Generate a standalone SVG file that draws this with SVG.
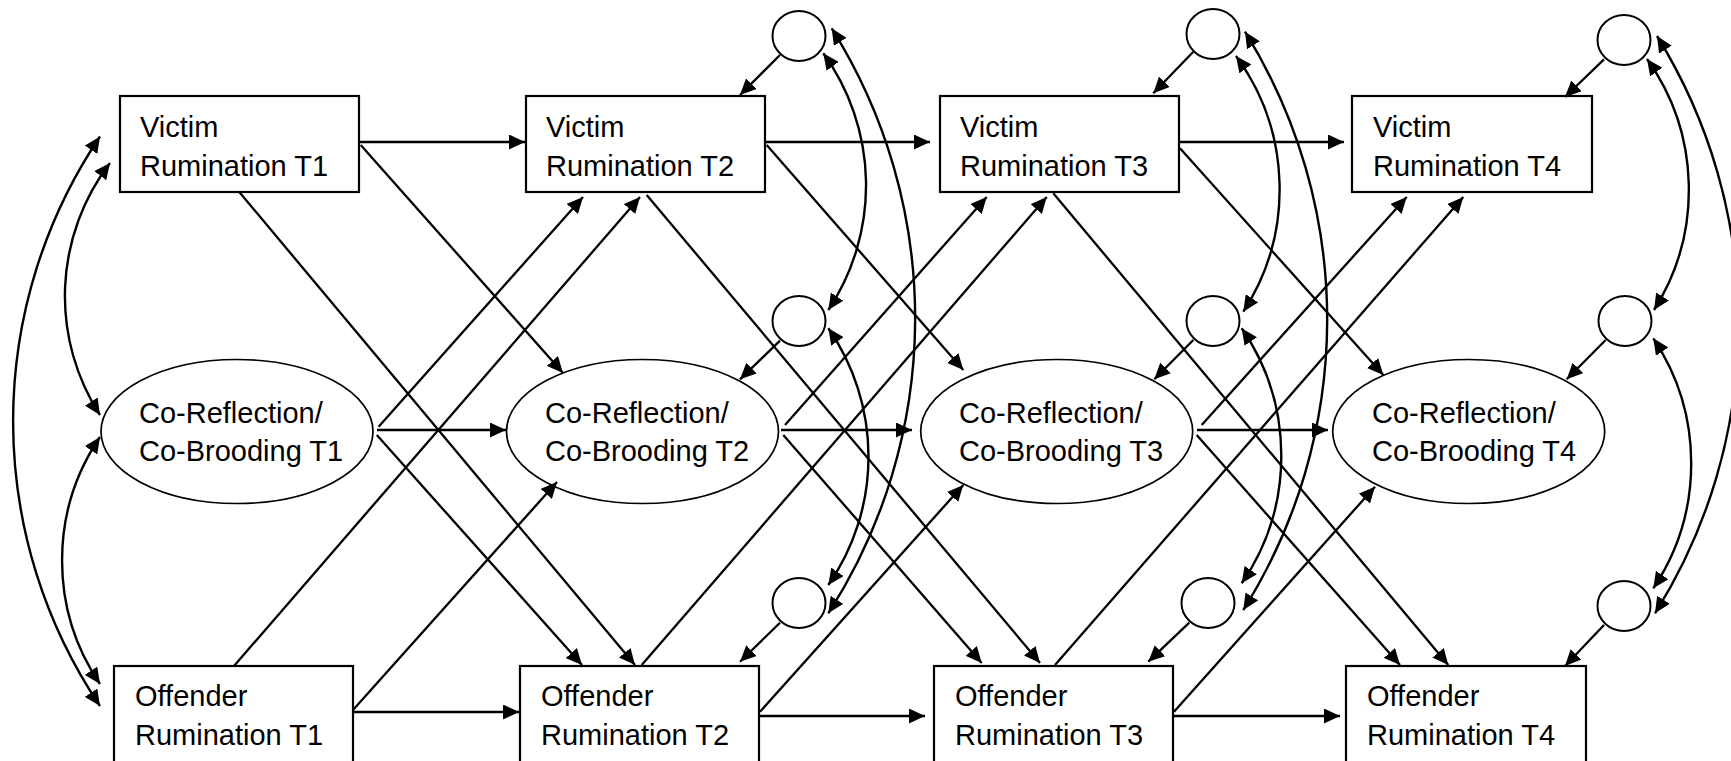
<svg xmlns="http://www.w3.org/2000/svg" width="1731" height="761" viewBox="0 0 1731 761">
  <defs>
    <marker id="ah" markerUnits="userSpaceOnUse" markerWidth="16" markerHeight="15" refX="16" refY="7.5" orient="auto-start-reverse" viewBox="0 0 16 15">
      <path d="M0,0 L16,7.5 L0,15 z" fill="#000"/>
    </marker>
    <style>
      .box { fill: #fff; stroke: #000; stroke-width: 2.2; }
      .lat { fill: #fff; stroke: #000; stroke-width: 1.7; }
      .err { fill: #fff; stroke: #000; stroke-width: 2; }
      .lbl { font-family: "Liberation Sans", Arial, sans-serif; font-size: 29px; fill: #000; }
      .ln { fill: none; stroke: #000; stroke-width: 2.3; marker-end: url(#ah); }
      .cov { fill: none; stroke: #000; stroke-width: 2.4; marker-start: url(#ah); marker-end: url(#ah); }
    </style>
  </defs>
  <rect width="1731" height="761" fill="#fff"/>

  <!-- Victim rumination T1..T4 -->
  <g id="victim-t1">
    <rect class="box" x="120" y="96" width="239" height="96"/>
    <text class="lbl" x="140" y="137">Victim</text>
    <text class="lbl" x="140" y="176">Rumination T1</text>
  </g>
  <g id="victim-t2">
    <rect class="box" x="526" y="96" width="239" height="96"/>
    <text class="lbl" x="546" y="137">Victim</text>
    <text class="lbl" x="546" y="176">Rumination T2</text>
  </g>
  <g id="victim-t3">
    <rect class="box" x="940" y="96" width="239" height="96"/>
    <text class="lbl" x="960" y="137">Victim</text>
    <text class="lbl" x="960" y="176">Rumination T3</text>
  </g>
  <g id="victim-t4">
    <rect class="box" x="1352" y="96" width="240" height="96"/>
    <text class="lbl" x="1373" y="137">Victim</text>
    <text class="lbl" x="1373" y="176">Rumination T4</text>
  </g>

  <!-- Co-reflection / co-brooding T1..T4 -->
  <g id="coref-t1">
    <ellipse class="lat" cx="237" cy="431.5" rx="136" ry="72"/>
    <text class="lbl" x="139" y="423">Co-Reflection/</text>
    <text class="lbl" x="139" y="461">Co-Brooding T1</text>
  </g>
  <g id="coref-t2">
    <ellipse class="lat" cx="642.5" cy="431.5" rx="136" ry="72"/>
    <text class="lbl" x="545" y="423">Co-Reflection/</text>
    <text class="lbl" x="545" y="461">Co-Brooding T2</text>
  </g>
  <g id="coref-t3">
    <ellipse class="lat" cx="1056.7" cy="431.5" rx="136" ry="72"/>
    <text class="lbl" x="959" y="423">Co-Reflection/</text>
    <text class="lbl" x="959" y="461">Co-Brooding T3</text>
  </g>
  <g id="coref-t4">
    <ellipse class="lat" cx="1468.7" cy="431.5" rx="136" ry="72"/>
    <text class="lbl" x="1372" y="423">Co-Reflection/</text>
    <text class="lbl" x="1372" y="461">Co-Brooding T4</text>
  </g>

  <!-- Offender rumination T1..T4 -->
  <g id="offender-t1">
    <rect class="box" x="114" y="666" width="239" height="110"/>
    <text class="lbl" x="135" y="706">Offender</text>
    <text class="lbl" x="135" y="745">Rumination T1</text>
  </g>
  <g id="offender-t2">
    <rect class="box" x="520" y="666" width="239" height="110"/>
    <text class="lbl" x="541" y="706">Offender</text>
    <text class="lbl" x="541" y="745">Rumination T2</text>
  </g>
  <g id="offender-t3">
    <rect class="box" x="934" y="666" width="239" height="110"/>
    <text class="lbl" x="955" y="706">Offender</text>
    <text class="lbl" x="955" y="745">Rumination T3</text>
  </g>
  <g id="offender-t4">
    <rect class="box" x="1346" y="666" width="240" height="110"/>
    <text class="lbl" x="1367" y="706">Offender</text>
    <text class="lbl" x="1367" y="745">Rumination T4</text>
  </g>

  <!-- residual terms -->
  <g id="e-victim-t2"><ellipse class="err" cx="799" cy="36" rx="26.5" ry="25"/></g>
  <g id="e-coref-t2"><ellipse class="err" cx="799" cy="321" rx="26.5" ry="25"/></g>
  <g id="e-offender-t2"><ellipse class="err" cx="799" cy="603" rx="26.5" ry="25"/></g>
  <g id="e-victim-t3"><ellipse class="err" cx="1213" cy="34" rx="26.5" ry="25"/></g>
  <g id="e-coref-t3"><ellipse class="err" cx="1213" cy="321" rx="26.5" ry="25"/></g>
  <g id="e-offender-t3"><ellipse class="err" cx="1208" cy="603" rx="26.5" ry="25"/></g>
  <g id="e-victim-t4"><ellipse class="err" cx="1624" cy="40" rx="26.5" ry="25"/></g>
  <g id="e-coref-t4"><ellipse class="err" cx="1625" cy="321" rx="26.5" ry="25"/></g>
  <g id="e-offender-t4"><ellipse class="err" cx="1624" cy="606" rx="26.5" ry="25"/></g>

  <g id="connectors">
    <!-- autoregressive paths -->
    <line class="ln" x1="359" y1="142" x2="525" y2="142"/>
    <line class="ln" x1="765" y1="142" x2="930" y2="142"/>
    <line class="ln" x1="1179" y1="142" x2="1344" y2="142"/>
    <line class="ln" x1="377" y1="430" x2="506" y2="430"/>
    <line class="ln" x1="781" y1="430" x2="912" y2="430"/>
    <line class="ln" x1="1197" y1="430" x2="1328" y2="430"/>
    <line class="ln" x1="353" y1="712" x2="519" y2="712"/>
    <line class="ln" x1="760" y1="716" x2="925" y2="716"/>
    <line class="ln" x1="1174" y1="716" x2="1340" y2="716"/>

    <!-- cross-lagged paths T1 -> T2 -->
    <line class="ln" x1="360.7" y1="145" x2="563" y2="373"/>
    <line class="ln" x1="239.3" y1="192" x2="635" y2="665"/>
    <line class="ln" x1="378.6" y1="426.7" x2="583" y2="197"/>
    <line class="ln" x1="376.8" y1="435" x2="582" y2="665"/>
    <line class="ln" x1="234" y1="666" x2="640" y2="197"/>
    <line class="ln" x1="353" y1="710" x2="557" y2="482"/>

    <!-- cross-lagged paths T2 -> T3 -->
    <line class="ln" x1="766.7" y1="145" x2="963.3" y2="370"/>
    <line class="ln" x1="646.7" y1="195" x2="1040" y2="663"/>
    <line class="ln" x1="785" y1="425" x2="986.7" y2="197"/>
    <line class="ln" x1="783.3" y1="435" x2="981.7" y2="663"/>
    <line class="ln" x1="641.7" y1="665" x2="1046.7" y2="197"/>
    <line class="ln" x1="760" y1="711.7" x2="963.3" y2="485"/>

    <!-- cross-lagged paths T3 -> T4 -->
    <line class="ln" x1="1180" y1="148.3" x2="1383.3" y2="375"/>
    <line class="ln" x1="1053.3" y1="193.3" x2="1448.3" y2="665"/>
    <line class="ln" x1="1201.7" y1="425" x2="1406.7" y2="197"/>
    <line class="ln" x1="1196.7" y1="435" x2="1400" y2="665"/>
    <line class="ln" x1="1055" y1="665" x2="1463.3" y2="197"/>
    <line class="ln" x1="1174" y1="711.7" x2="1375" y2="486.7"/>

    <!-- residual paths -->
    <line class="ln" x1="780" y1="55" x2="740" y2="95"/>
    <line class="ln" x1="780" y1="340.7" x2="740" y2="379.3"/>
    <line class="ln" x1="780" y1="622.7" x2="740" y2="661.7"/>
    <line class="ln" x1="1193.3" y1="51.7" x2="1153.3" y2="93.3"/>
    <line class="ln" x1="1193.3" y1="340" x2="1154.3" y2="379.3"/>
    <line class="ln" x1="1189.3" y1="622.7" x2="1148.3" y2="661.7"/>
    <line class="ln" x1="1604" y1="59.3" x2="1565" y2="97"/>
    <line class="ln" x1="1605.7" y1="340" x2="1566.7" y2="379.3"/>
    <line class="ln" x1="1604" y1="625" x2="1565" y2="666"/>

    <!-- T1 covariances -->
    <path class="cov" d="M110,163 A219,219 0 0 0 100,415"/>
    <path class="cov" d="M100,437 A220,220 0 0 0 100,684"/>
    <path class="cov" d="M100,136.5 A510,510 0 0 0 100,706"/>

    <!-- residual covariances T2 -->
    <path class="cov" d="M823.3,53.3 A225,225 0 0 1 828.3,310"/>
    <path class="cov" d="M828.3,328.3 A225,225 0 0 1 828.3,585"/>
    <path class="cov" d="M831.7,28.3 A545,545 0 0 1 828.3,613.3"/>

    <!-- residual covariances T3 -->
    <path class="cov" d="M1236,56 A225,225 0 0 1 1243.3,311.7"/>
    <path class="cov" d="M1241.7,328.3 A225,225 0 0 1 1241.7,583.3"/>
    <path class="cov" d="M1245,31.7 A545,545 0 0 1 1243.3,610"/>

    <!-- residual covariances T4 -->
    <path class="cov" d="M1647,59 A225,225 0 0 1 1654,310"/>
    <path class="cov" d="M1653.3,338.3 A225,225 0 0 1 1653.3,588.3"/>
    <path class="cov" d="M1657,36 A545,545 0 0 1 1655,613.3"/>
  </g>
</svg>
